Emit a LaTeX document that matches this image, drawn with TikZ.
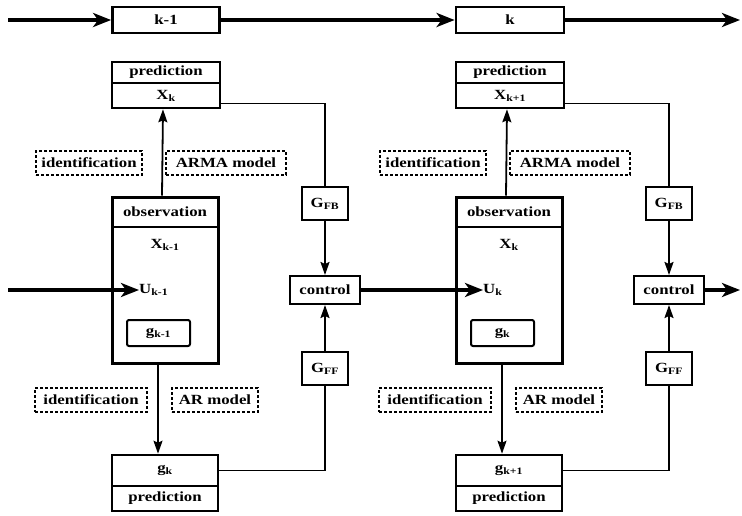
\documentclass[tikz,border=0pt]{standalone}
\usepackage{fontspec}
\setmainfont{Liberation Serif}[FakeStretch=1.2]
\usetikzlibrary{arrows.meta}
\begin{document}
\begin{tikzpicture}[x=1pt, y=-1pt,
  every node/.style={font=\fontsize{14}{15}\selectfont\bfseries, inner sep=0pt},
  box/.style={draw, line width=2.6pt},
  dbox/.style={draw, densely dashed, line width=1.5pt, minimum height=24pt},
  gbox/.style={draw, line width=2pt},
  link/.style={line width=1.8pt},
  tip/.style={-{Stealth[length=13pt, width=9pt, inset=2pt]}},
  bigarrow/.style={line width=3.4pt, -{Stealth[length=18pt, width=14pt, inset=5pt]}}
]
\useasboundingbox (0,0) rectangle (742,515);

% time axis
\node[box, line width=2.8pt, minimum width=107pt, minimum height=26pt] (t1) at (166,20) {k-1};
\node[box, line width=2.8pt, minimum width=108pt, minimum height=26pt] (t2) at (510,20) {k};
\coordinate (tin) at (8,20);
\coordinate (tout) at (740,20);
\draw[bigarrow] (tin) -- (t1.west);
\draw[bigarrow] (t1.east) -- (t2.west);
\draw[bigarrow] (t2.east) -- (tout);

% one stage of the scheme per time step
\foreach \o/\n/\xp/\xo/\u/\gi/\gb in {0/1/k/k-1/k-1/k-1/k, 344/2/k+1/k/k/k/k+1}{
  % prediction of the state
  \node[box, minimum width=108pt, minimum height=21pt] (p\n) at ({166+\o},72.5) {prediction};
  \node[box, minimum width=108pt, minimum height=25pt] (x\n) at ({166+\o},95.5) {X\textsubscript{\xp}};
  % observation block
  \node[box, line width=3pt, minimum width=106pt, minimum height=166pt] (ob\n) at ({165+\o},280) {};
  \node[box, minimum width=106pt, minimum height=30pt] (oh\n) at ({165+\o},212) {observation};
  \node (xo\n) at ({165+\o},245) {X\textsubscript{\xo}};
  \node[anchor=west] (u\n) at ({139+\o},290) {U\textsubscript{\u}};
  \node[gbox, rounded corners=2pt, minimum width=63pt, minimum height=26pt] (gi\n) at ({158.5+\o},333) {g\textsubscript{\gi}};
  % prediction of the disturbance
  \node[box, minimum width=106pt, minimum height=31pt] (gb\n) at ({165+\o},470.5) {g\textsubscript{\gb}};
  \node[box, minimum width=106pt, minimum height=25pt] (pb\n) at ({165+\o},498.5) {prediction};
  % model labels
  \node[dbox, minimum width=106pt] (id\n) at ({89+\o},163) {identification};
  \node[dbox, minimum width=120pt] (arma\n) at ({226+\o},163) {ARMA model};
  \node[dbox, minimum width=112pt] (idb\n) at ({91+\o},400) {identification};
  \node[dbox, minimum width=86pt] (ar\n) at ({215+\o},400) {AR model};
  % controller
  \node[gbox, minimum width=46pt, minimum height=33pt] (gfb\n) at ({325+\o},203.5) {G\textsubscript{FB}};
  \node[gbox, minimum width=70pt, minimum height=28pt] (ctl\n) at ({325+\o},290) {control};
  \node[gbox, minimum width=46pt, minimum height=33pt] (gff\n) at ({325+\o},368.5) {G\textsubscript{FF}};
  % connections
  \draw[link] ([yshift=-8pt]x\n.east) -| (gfb\n.north);
  \draw[link, tip] (gfb\n.south) -- (ctl\n.north);
  \draw[link, tip] (gff\n.north) -- (ctl\n.south);
  \draw[link] (gff\n.south) |- (gb\n.east);
  \draw[link, tip] ([xshift=-3pt]ob\n.north) -- ([xshift=-3pt]x\n.south);
  \draw[link, tip] ([xshift=-7pt]ob\n.south) -- ([xshift=-7pt]gb\n.north);
}

% control inputs
\coordinate (uin) at (8,290);
\coordinate (uout) at (740,290);
\draw[bigarrow] (uin) -- (u1.west);
\draw[bigarrow] (ctl1.east) -- (ctl1.east -| u2.west);
\draw[bigarrow] (ctl2.east) -- (uout);
\end{tikzpicture}
\end{document}
